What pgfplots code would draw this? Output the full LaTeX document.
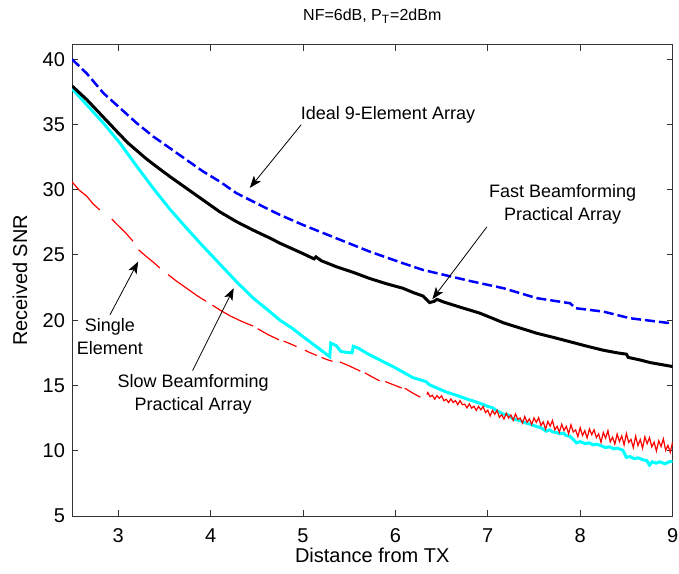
\documentclass[border=0pt]{standalone}
\usepackage{fontspec}
\setmainfont{Liberation Sans}
\usepackage{pgfplots}
\pgfplotsset{compat=1.18}
\usetikzlibrary{arrows.meta}
\definecolor{mcyan}{rgb}{0,1,1}
\definecolor{mred}{rgb}{1,0,0}
\definecolor{mblue}{rgb}{0,0,1}

\begin{document}
\begin{tikzpicture}
\useasboundingbox (-36pt,-28.5pt) rectangle (303.5pt,258pt);
\begin{axis}[
  at={(0,0)}, anchor=south west,
  scale only axis, width=300.3pt, height=235.6pt,
  xmin=2.5, xmax=9, ymin=5, ymax=41.1,
  xtick={3,...,9}, ytick={5,10,...,40},
  tick align=inside, tick pos=both,
  major tick length=3pt,
  /pgf/number format/assume math mode=true,
  ticklabel style={font=\fontsize{10}{12}\selectfont},
  xticklabel style={anchor=base, yshift=-13pt},
  label style={font=\fontsize{10}{12}\selectfont},
  xlabel={Distance from TX}, ylabel={Received SNR},
  xlabel style={at={(axis description cs:0.5,-0.0997)}, anchor=base},
  ylabel style={at={(axis description cs:-0.0866,0.5)}, anchor=center},
  title={NF=6dB, P\textsubscript{T}=2dBm},
  % cancel the default 6pt lift of the title
  title style={at={(axis description cs:0.5,1.0516)}, anchor=base, yshift=-6pt,
    font=\fontsize{8}{10}\selectfont},
  unbounded coords=jump,
  axis line style={black!80, line width=0.5pt},
  tick style={black!80, line width=0.5pt},
]

% slow beamforming practical array
\addplot[mcyan, line width=1.5pt] coordinates {
(2.50,37.75) (2.66,36.5) (2.84,35.1) (3.02,33.56) (3.20,31.8) (3.38,30.1)
(3.56,28.5) (3.74,27.05) (3.92,25.65) (4.10,24.3) (4.28,22.95) (4.46,21.7)
(4.64,20.66) (4.75,20.0) (4.88,19.4) (5.00,18.74) (5.15,17.95) (5.29,17.2)
(5.30,18.25) (5.36,18.05) (5.41,17.6) (5.46,17.55) (5.53,17.5) (5.545,18.0)
(5.60,17.85) (5.72,17.35) (5.83,16.96) (6.00,16.35) (6.19,15.6) (6.33,15.3)
(6.37,15.05) (6.45,14.8) (6.55,14.5) (6.66,14.25) (6.78,13.95) (6.91,13.65)
(7.00,13.4) (7.05,13.3) (7.10,13.05) (7.17,12.8) (7.22,12.75) (7.27,12.45)
(7.35,12.3) (7.40,12.15) (7.45,12.05) (7.53,11.85) (7.58,11.75) (7.63,11.5)
(7.67,11.6) (7.70,11.45) (7.74,11.4) (7.78,11.3) (7.82,11.35) (7.85,11.15)
(7.89,11.1) (7.92,10.9) (7.96,10.6) (8.00,10.7) (8.05,10.55) (8.10,10.6)
(8.14,10.45) (8.18,10.5) (8.22,10.4) (8.27,10.25) (8.32,10.3) (8.36,10.15)
(8.40,10.2) (8.46,10.05) (8.50,9.5) (8.54,9.55) (8.58,9.4) (8.63,9.45)
(8.68,9.3) (8.72,9.25) (8.75,8.9) (8.78,9.15) (8.82,9.05) (8.86,9.15)
(8.92,9.0) (8.96,9.15) (9.00,9.2)
};

% single element
\addplot[mred, line width=0.6pt] coordinates {
(2.50,30.6) (2.58,29.95) (2.66,29.5) (2.73,28.9) (2.80,28.45) (2.80,nan)
(2.93,27.75) (3.00,27.25) (3.08,26.7) (3.16,26.05) (3.16,nan)
(3.22,25.4) (3.30,24.9) (3.38,24.45) (3.45,24.0) (3.45,nan)
(3.54,23.5) (3.62,23.05) (3.70,22.65) (3.78,22.25) (3.86,21.85) (3.95,21.45) (3.95,nan)
(4.02,21.15) (4.12,20.7) (4.22,20.3) (4.34,19.9) (4.46,19.55) (4.46,nan)
(4.51,19.35) (4.62,18.9) (4.74,18.5) (4.74,nan)
(4.79,18.4) (4.86,18.2) (4.93,17.98) (4.93,nan)
(5.02,17.7) (5.08,17.5) (5.15,17.3) (5.15,nan)
(5.20,17.15) (5.26,16.98) (5.32,16.85) (5.32,nan)
(5.40,16.8) (5.50,16.5) (5.56,16.3) (5.62,16.1) (5.62,nan)
(5.67,15.96) (5.75,15.65) (5.83,15.35) (5.83,nan)
(5.89,15.3) (5.98,15.05) (6.07,14.8) (6.07,nan)
(6.10,14.8) (6.18,14.45) (6.27,14.1) (6.27,nan)
(6.340,14.30) (6.350,14.46) (6.375,14.14) (6.400,14.25) (6.425,13.95) (6.450,14.22)
(6.475,14.02) (6.500,14.21) (6.525,13.83) (6.550,13.94) (6.575,13.69) (6.600,13.97)
(6.625,13.70) (6.650,13.84) (6.675,13.53) (6.700,13.84) (6.725,13.52) (6.750,13.57)
(6.775,13.28) (6.800,13.59) (6.825,13.26) (6.850,13.41) (6.875,13.09) (6.900,13.40)
(6.925,13.14) (6.950,13.39) (6.975,12.92) (7.000,13.10) (7.025,12.66) (7.050,13.09)
(7.075,12.79) (7.100,13.10) (7.125,12.56) (7.150,12.76) (7.175,12.43) (7.200,12.87)
(7.225,12.51) (7.250,12.74) (7.275,12.32) (7.300,12.82) (7.325,12.40) (7.350,12.51)
(7.375,12.12) (7.400,12.62) (7.425,12.17) (7.450,12.43) (7.475,12.01) (7.500,12.51)
(7.525,12.17) (7.550,12.53) (7.575,11.93) (7.600,12.21) (7.625,11.65) (7.650,12.24)
(7.675,11.88) (7.700,12.32) (7.725,11.60) (7.750,11.87) (7.775,11.43) (7.800,12.03)
(7.825,11.55) (7.850,11.87) (7.875,11.30) (7.900,11.99) (7.925,11.43) (7.950,11.60)
(7.975,11.08) (8.000,11.77) (8.025,11.17) (8.050,11.54) (8.075,10.98) (8.100,11.67)
(8.125,11.23) (8.150,11.60) (8.175,11.01) (8.200,11.29) (8.225,10.64) (8.250,11.40)
(8.275,10.97) (8.300,11.54) (8.325,10.67) (8.350,11.04) (8.375,10.51) (8.400,11.28)
(8.425,10.70) (8.450,11.13) (8.475,10.45) (8.500,11.32) (8.525,10.64) (8.550,10.87)
(8.575,10.24) (8.600,11.11) (8.625,10.39) (8.650,10.86) (8.675,10.19) (8.700,11.06)
(8.725,10.54) (8.750,11.01) (8.775,10.29) (8.800,10.66) (8.825,9.98) (8.850,10.76)
(8.875,10.33) (8.900,10.91) (8.925,10.03) (8.950,10.41) (8.975,9.88) (9.000,10.65)
};

% fast beamforming practical array
\addplot[black, line width=1.5pt] coordinates {
(2.50,37.95) (2.66,36.9) (2.84,35.55) (3.02,34.2) (3.11,33.55) (3.20,33.0)
(3.29,32.45) (3.38,31.95) (3.56,31.0) (3.74,30.1) (3.92,29.2) (4.10,28.3)
(4.28,27.55) (4.46,26.9) (4.64,26.3) (4.75,25.9) (5.00,25.1) (5.12,24.7)
(5.14,24.85) (5.20,24.55) (5.36,24.1) (5.55,23.65) (5.72,23.2) (5.90,22.8)
(6.08,22.45) (6.20,22.1) (6.30,21.85) (6.37,21.35) (6.42,21.45) (6.45,21.6)
(6.52,21.4) (6.70,21.0) (6.91,20.55) (7.05,20.15) (7.17,19.8) (7.35,19.4)
(7.53,19.0) (7.70,18.7) (7.89,18.35) (8.05,18.05) (8.25,17.7) (8.40,17.5)
(8.50,17.4) (8.52,17.15) (8.65,16.95) (8.76,16.75) (8.88,16.6) (9.00,16.45)
};

% ideal 9-element array
\addplot[mblue, line width=1.25pt, dash pattern=on 5pt off 2pt] coordinates {
(2.50,40.0) (2.66,38.9) (2.84,37.4) (3.02,36.25) (3.20,35.1) (3.38,34.07)
(3.56,33.18) (3.74,32.28) (3.92,31.39) (4.10,30.62) (4.28,29.73) (4.46,29.09)
(4.64,28.45) (4.75,28.07) (5.00,27.3) (5.36,26.28) (5.72,25.26) (6.08,24.37)
(6.30,23.85) (6.45,23.6) (6.81,23.0) (7.17,22.45) (7.53,21.69) (7.89,21.3)
(7.95,20.92) (8.25,20.66) (8.54,20.15) (9.00,19.75)
};

\node[font=\fontsize{9}{11}\selectfont] at (axis cs:5.92,35.73) {Ideal 9-Element Array};
\draw[-{Stealth[length=6pt,width=4.5pt,inset=1.5pt]}, line width=0.4pt]
  (axis cs:4.98,34.97) -- (axis cs:4.425,30.14);

\node[font=\fontsize{9}{11.5}\selectfont, align=center] at (axis cs:7.81,28.86)
  {Fast Beamforming\\Practical Array};
\draw[-{Stealth[length=6pt,width=4.5pt,inset=1.5pt]}, line width=0.4pt]
  (axis cs:6.99,27.15) -- (axis cs:6.40,21.61);

\node[font=\fontsize{9}{11.5}\selectfont, align=center] at (axis cs:2.91,18.72)
  {Single\\Element};
\draw[-{Stealth[length=6pt,width=4.5pt,inset=1.5pt]}, line width=0.4pt]
  (axis cs:2.91,20.4) -- (axis cs:3.216,24.49);

\node[font=\fontsize{9}{11.5}\selectfont, align=center] at (axis cs:3.81,14.35)
  {Slow Beamforming\\Practical Array};
\draw[-{Stealth[length=6pt,width=4.5pt,inset=1.5pt]}, line width=0.4pt]
  (axis cs:3.805,16.14) -- (axis cs:4.25,22.45);

\end{axis}
\end{tikzpicture}
\end{document}
